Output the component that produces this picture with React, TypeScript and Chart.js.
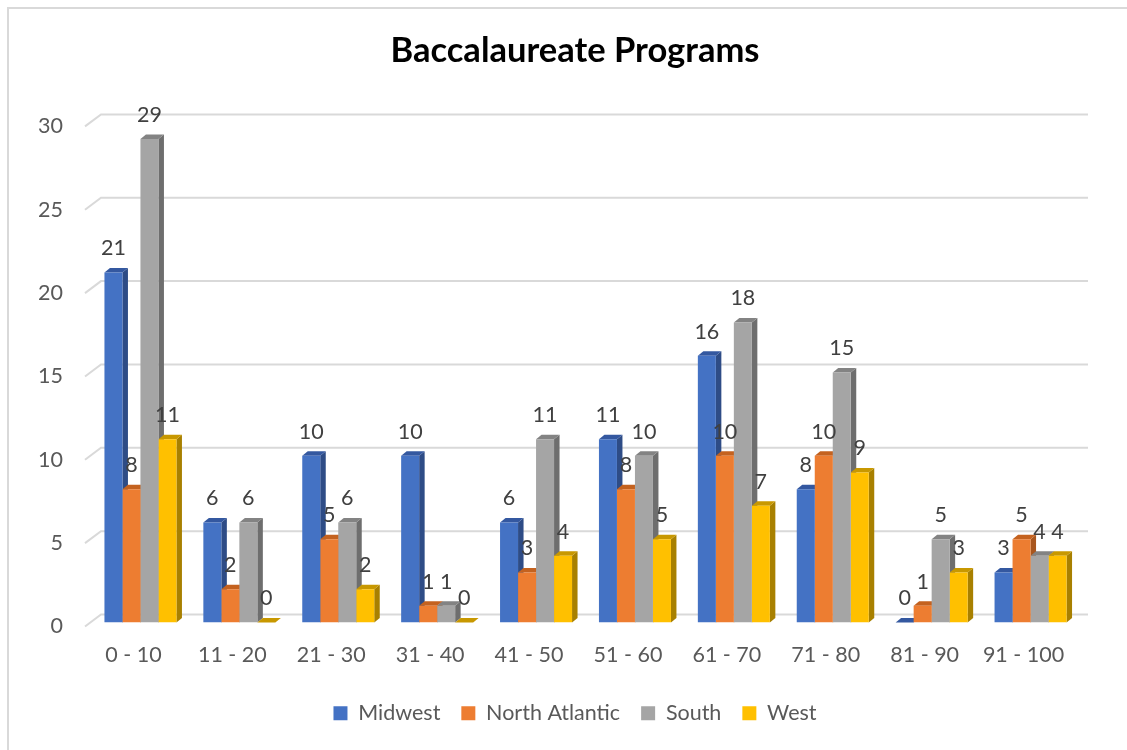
import { useEffect, useRef } from "react";
import { Chart, registerables } from "chart.js";

Chart.register(...registerables);

const categories = ["0 - 10", "11 - 20", "21 - 30", "31 - 40", "41 - 50", "51 - 60", "61 - 70", "71 - 80", "81 - 90", "91 - 100"];
const seriesNames = ["Midwest", "North Atlantic", "South", "West"];
const midwest = [21, 6, 10, 10, 6, 11, 16, 8, 0, 3];
const northAtlantic = [8, 2, 5, 1, 3, 8, 10, 10, 1, 5];
const south = [29, 6, 6, 1, 11, 10, 18, 15, 5, 4];
const west = [11, 0, 2, 0, 4, 5, 7, 9, 3, 4];
const yTicks = [0, 5, 10, 15, 20, 25, 30];
const titleText = "Baccalaureate Programs";

const FRONT = ["#4472C4", "#ED7D31", "#A5A5A5", "#FFC000"];
const SIDE = ["#2E4C86", "#A9561E", "#6E6E6E", "#A88000"];
const TOP = ["#3458A0", "#C4621F", "#838383", "#C89800"];
const FONT = "Lato";
const FS = 21.5;
const DX = 5.5;
const DY = 4.5;

const threeD = {
  id: "threeD",
  beforeDraw(chart: any) {
    const ctx = chart.ctx;
    ctx.save();
    ctx.fillStyle = "#FFFFFF";
    ctx.fillRect(0, 0, chart.width, chart.height);
    ctx.fillStyle = "#D9D9D9";
    ctx.fillRect(7, 7, chart.width, 2);
    ctx.fillRect(7, 7, 2, chart.height);
    ctx.restore();
  },
  beforeDatasetsDraw(chart: any) {
    const { ctx, chartArea, scales } = chart;
    const ys = scales.y;
    ctx.save();
    ctx.strokeStyle = "#D9D9D9";
    ctx.lineWidth = 2;
    for (const t of yTicks) {
      const py = ys.getPixelForValue(t);
      ctx.beginPath();
      ctx.moveTo(chartArea.left - 6, py + 4);
      ctx.lineTo(chartArea.left + 10, py - 8);
      ctx.lineTo(chartArea.right + 8, py - 8);
      ctx.stroke();
    }
    chart.data.datasets.forEach((_ds: any, di: number) => {
      const meta = chart.getDatasetMeta(di);
      meta.data.forEach((bar: any) => {
        const { x, y, base, width } = bar.getProps(["x", "y", "base", "width"], true);
        const L = x - width / 2;
        const R = x + width / 2;
        ctx.fillStyle = SIDE[di];
        ctx.beginPath();
        ctx.moveTo(R, y);
        ctx.lineTo(R + DX, y - DY);
        ctx.lineTo(R + DX, base - DY);
        ctx.lineTo(R, base);
        ctx.closePath();
        ctx.fill();
        ctx.fillStyle = TOP[di];
        ctx.beginPath();
        ctx.moveTo(L, y);
        ctx.lineTo(R, y);
        ctx.lineTo(R + DX, y - DY);
        ctx.lineTo(L + DX, y - DY);
        ctx.closePath();
        ctx.fill();
      });
    });
    ctx.restore();
  },
  afterDatasetsDraw(chart: any) {
    const ctx = chart.ctx;
    ctx.save();
    ctx.fillStyle = "#404040";
    ctx.font = `${FS}px ${FONT}`;
    ctx.textAlign = "center";
    ctx.textBaseline = "middle";
    chart.data.datasets.forEach((ds: any, di: number) => {
      const meta = chart.getDatasetMeta(di);
      meta.data.forEach((bar: any, i: number) => {
        const { x, y } = bar.getProps(["x", "y"], true);
        ctx.fillText(String(ds.data[i]), x, y - 24);
      });
    });
    ctx.restore();
  },
};

export default function App() {
  const ref = useRef<HTMLCanvasElement | null>(null);
  useEffect(() => {
    if (!ref.current) return;
    Chart.defaults.font.family = FONT;
    const seriesData = [midwest, northAtlantic, south, west];
    const chart = new Chart(ref.current, {
      type: "bar",
      data: {
        labels: categories,
        datasets: seriesNames.map((name, i) => ({
          label: name,
          data: seriesData[i],
          backgroundColor: FRONT[i],
          borderWidth: 0,
          categoryPercentage: 0.728,
          barPercentage: 1,
        })),
      },
      options: {
        responsive: false,
        animation: false,
        layout: { padding: { left: 35, right: 12, top: 0, bottom: 16 } },
        plugins: {
          tooltip: { enabled: false },
          title: {
            display: true,
            text: titleText,
            color: "#000000",
            font: { family: FONT, size: 34.5, weight: "bold", lineHeight: 1.2 },
            padding: { top: 30, bottom: 51 },
          },
          legend: {
            position: "bottom",
            labels: {
              boxWidth: 14,
              boxHeight: 14,
              padding: 21,
              color: "#595959",
              font: { family: FONT, size: FS },
            },
          },
        },
        scales: {
          x: {
            grid: { display: false, drawTicks: false },
            border: { display: false },
            ticks: { color: "#595959", font: { size: FS }, padding: 20, labelOffset: -7, maxRotation: 0, autoSkip: false },
            afterFit: (s: any) => {
              s.height = 59;
            },
          },
          y: {
            min: 0,
            max: 30,
            grid: { display: false, drawTicks: false },
            border: { display: false },
            ticks: { stepSize: 5, color: "#595959", font: { size: FS }, padding: 28, labelOffset: 4 },
            afterFit: (s: any) => {
              s.width = 56;
            },
          },
          y2: {
            position: "right",
            min: 0,
            max: 30,
            grid: { display: false, drawTicks: false },
            border: { display: false },
            ticks: { display: false },
            afterFit: (s: any) => {
              s.width = 35;
            },
          },
        },
      },
      plugins: [threeD],
    });
    return () => chart.destroy();
  }, []);
  return (
    <canvas
      ref={ref}
      width={1127}
      height={750}
      style={{ position: "fixed", left: 0, top: 0, width: 1127, height: 750 }}
    />
  );
}
